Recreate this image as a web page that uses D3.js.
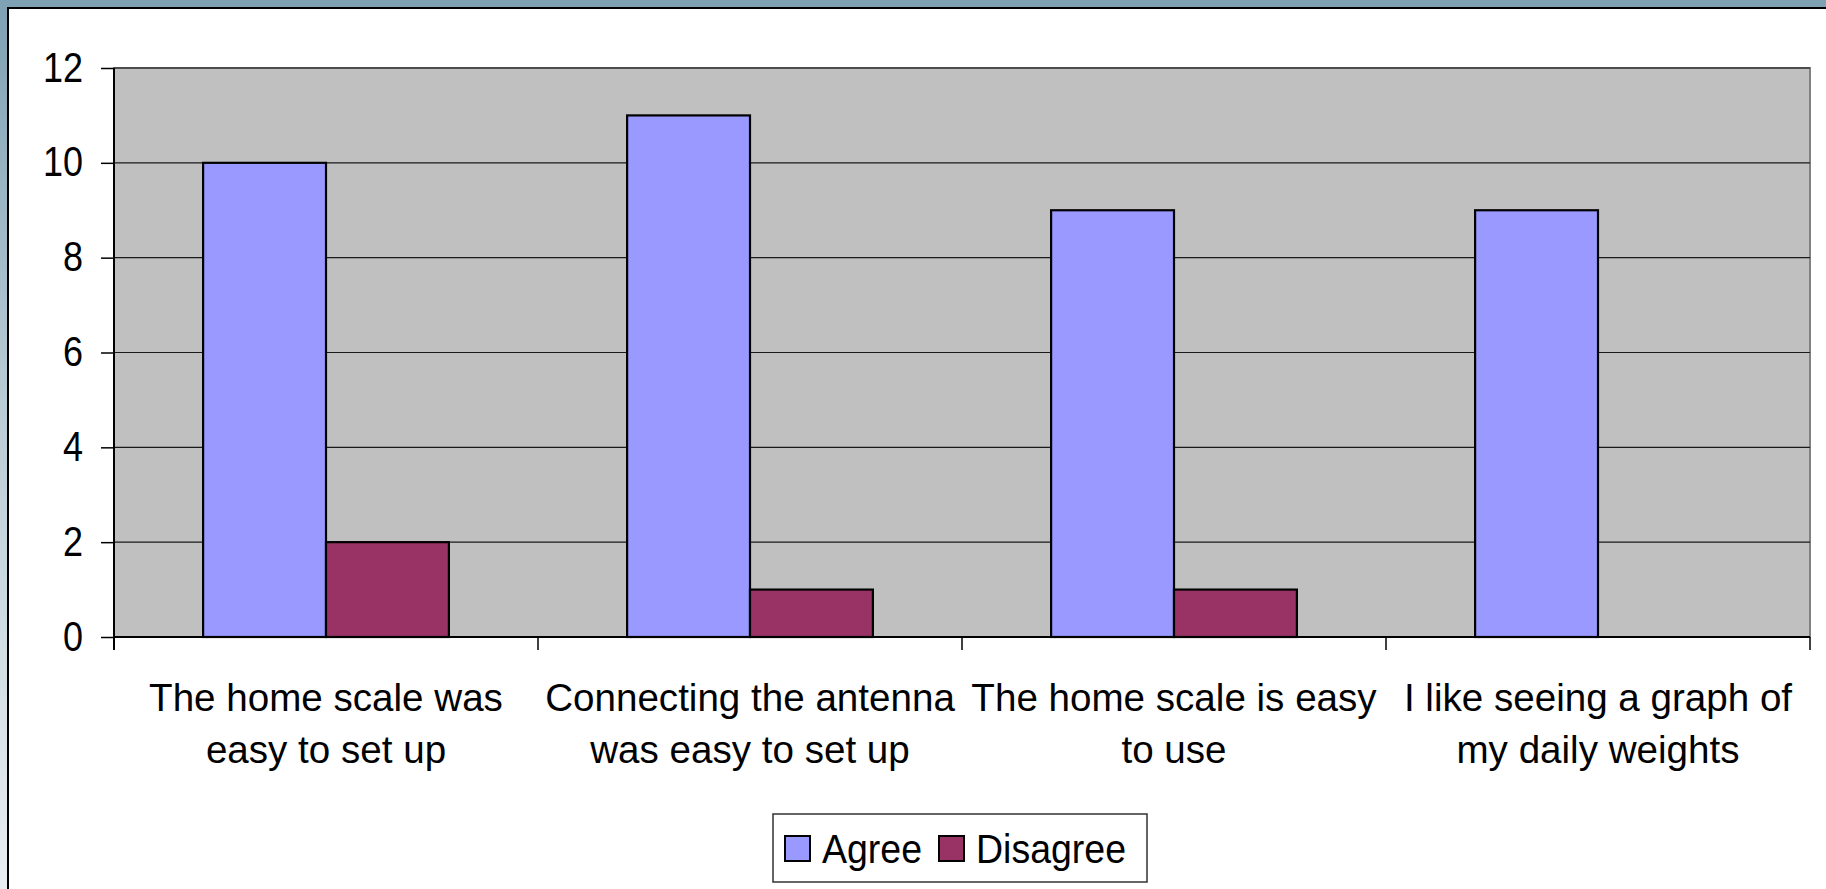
<!DOCTYPE html>
<html>
<head>
<meta charset="utf-8">
<script src="https://cdn.jsdelivr.net/npm/d3@7"></script>
<style>
  body { margin: 0; padding: 0; overflow: hidden; }
  text { font-family: "Liberation Sans", Arial, sans-serif; fill: #000; }
</style>
</head>
<body>
<div id="graph-container"></div>
<script>
// Dati del grafico
var categories = [
  ["The home scale was", "easy to set up"],
  ["Connecting the antenna", "was easy to set up"],
  ["The home scale is easy", "to use"],
  ["I like seeing a graph of", "my daily weights"]
];
var seriesNames = ["Agree", "Disagree"];
var seriesColors = ["#9999ff", "#993366"];
var agreeValues = [10, 11, 9, 9];
var disagreeValues = [2, 1, 1, 0];
var yTicks = [0, 2, 4, 6, 8, 10, 12];

var width = 1826;
var height = 889;

var svg = d3.select("#graph-container").append("svg")
  .attr("width", width)
  .attr("height", height);

// Sfondo della slide
var defs = svg.append("defs");
var grad = defs.append("linearGradient")
  .attr("id", "bg").attr("x1", 0).attr("y1", 0).attr("x2", 0).attr("y2", 1);
grad.append("stop").attr("offset", "0%").attr("stop-color", "#7ea1b3");
grad.append("stop").attr("offset", "45%").attr("stop-color", "#b9cbd5");
grad.append("stop").attr("offset", "100%").attr("stop-color", "#e9eef2");
svg.append("rect").attr("width", width).attr("height", height).attr("fill", "url(#bg)");

// Cornice bianca del grafico
svg.append("rect")
  .attr("x", 8).attr("y", 8)
  .attr("width", width + 20).attr("height", height + 20)
  .attr("fill", "#fff")
  .attr("stroke", "#000").attr("stroke-width", 2);

// Area del plot
var plot = { left: 114, right: 1810, top: 68, bottom: 637 };

var x0 = d3.scaleBand()
  .domain(d3.range(categories.length))
  .range([plot.left, plot.right])
  .paddingInner(0).paddingOuter(0);

var barW = x0.bandwidth() / 3.45;
var x1 = d3.scaleBand()
  .domain(seriesNames)
  .range([x0.bandwidth() / 2 - barW, x0.bandwidth() / 2 + barW]);

var y = d3.scaleLinear().domain([0, 12]).range([plot.bottom, plot.top]);

svg.append("rect")
  .attr("x", plot.left).attr("y", plot.top)
  .attr("width", plot.right - plot.left).attr("height", plot.bottom - plot.top)
  .attr("fill", "#c0c0c0")
  .attr("stroke", "#808080").attr("stroke-width", 2);

// Griglia
svg.append("g").selectAll("line")
  .data(yTicks.filter(function (d) { return d > 0; }))
  .enter().append("line")
  .attr("x1", plot.left).attr("x2", plot.right)
  .attr("y1", function (d) { return y(d); })
  .attr("y2", function (d) { return y(d); })
  .attr("stroke", "#1a1a1a").attr("stroke-width", 1.2);

// Barre
var rows = categories.map(function (c, i) {
  return [
    { cat: i, key: "Agree", value: agreeValues[i] },
    { cat: i, key: "Disagree", value: disagreeValues[i] }
  ];
});

svg.append("g").selectAll("g")
  .data(rows).enter().append("g")
  .attr("transform", function (d, i) { return "translate(" + x0(i) + ",0)"; })
  .selectAll("rect")
  .data(function (d) { return d.filter(function (b) { return b.value > 0; }); })
  .enter().append("rect")
  .attr("x", function (d) { return x1(d.key); })
  .attr("width", x1.bandwidth())
  .attr("y", function (d) { return y(d.value); })
  .attr("height", function (d) { return y(0) - y(d.value); })
  .attr("fill", function (d) { return seriesColors[seriesNames.indexOf(d.key)]; })
  .attr("stroke", "#000").attr("stroke-width", 2.2);

// Assi
var yAxis = d3.axisLeft(y).tickValues(yTicks).tickSize(13).tickPadding(18);
var gy = svg.append("g").attr("transform", "translate(" + plot.left + ",0)").call(yAxis);
gy.select(".domain").attr("stroke", "#000").attr("stroke-width", 2)
  .attr("d", "M0," + plot.top + "V" + (plot.bottom + 13));
gy.selectAll(".tick line").attr("stroke", "#000").attr("stroke-width", 1.5);
gy.selectAll(".tick text")
  .style("font-family", "'Liberation Sans', Arial, sans-serif")
  .style("font-size", "36px").attr("fill", "#000")
  .attr("dy", "0.31em")
  .attr("transform", "scale(1,1.17)");

// Asse x con tacche tra le categorie
var xTicks = d3.range(categories.length + 1).map(function (i) {
  return plot.left + i * x0.bandwidth();
});
svg.append("line")
  .attr("x1", plot.left).attr("x2", plot.right)
  .attr("y1", plot.bottom).attr("y2", plot.bottom)
  .attr("stroke", "#000").attr("stroke-width", 2);
svg.append("g").selectAll("line")
  .data(xTicks).enter().append("line")
  .attr("x1", function (d) { return d; }).attr("x2", function (d) { return d; })
  .attr("y1", plot.bottom).attr("y2", plot.bottom + 13)
  .attr("stroke", "#000").attr("stroke-width", 1.5);

// Etichette categorie
var labels = svg.append("g").selectAll("text")
  .data(categories).enter().append("text")
  .attr("text-anchor", "middle")
  .style("font-size", "38.6px")
  .attr("x", function (d, i) { return x0(i) + x0.bandwidth() / 2; })
  .attr("y", 711);
labels.selectAll("tspan")
  .data(function (d) { return d; })
  .enter().append("tspan")
  .attr("x", function () { return this.parentNode.getAttribute("x"); })
  .attr("dy", function (d, i) { return i === 0 ? 0 : 52; })
  .text(function (d) { return d; });

// Legenda
var legend = svg.append("g");
legend.append("rect")
  .attr("x", 773).attr("y", 814).attr("width", 374).attr("height", 68)
  .attr("fill", "#fff").attr("stroke", "#333").attr("stroke-width", 1.5);
var legendX = [785, 939];
seriesNames.forEach(function (name, i) {
  legend.append("rect")
    .attr("x", legendX[i]).attr("y", 836).attr("width", 25).attr("height", 25)
    .attr("fill", seriesColors[i]).attr("stroke", "#000").attr("stroke-width", 2);
  legend.append("text")
    .attr("transform", "translate(" + (legendX[i] + 37) + ",863) scale(1,1.1)")
    .style("font-size", "37.5px")
    .text(name);
});
</script>
</body>
</html>
